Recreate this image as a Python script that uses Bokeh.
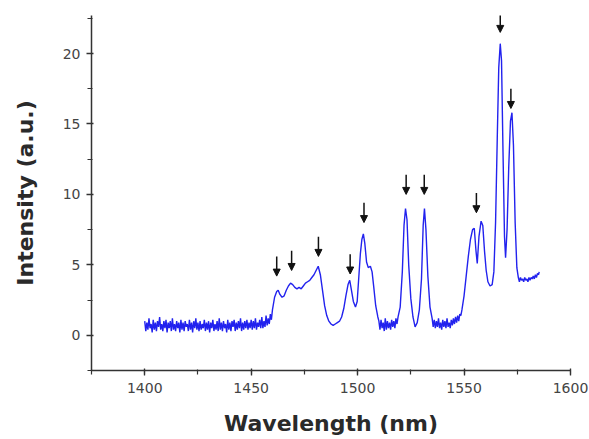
from bokeh.plotting import figure
from bokeh.models import Range1d, SingleIntervalTicker, Arrow, NormalHead, ColumnDataSource
from bokeh.embed import file_html
from bokeh.resources import INLINE

# Spectrum (wavelength nm, intensity a.u.), in segments
base1_x = [1400 + 0.5 * i for i in range(120)]  # 1400.0 ... 1459.5 sample positions
base1_y = [
    1.0, 0.3, 0.9, 0.4, 1.2, 0.5, 0.8, 0.2, 1.1, 0.4,
    0.9, 0.3, 1.0, 0.6, 1.3, 0.4, 0.8, 0.3, 1.0, 0.5,
    1.1, 0.2, 0.9, 0.5, 1.0, 0.3, 1.2, 0.4, 0.8, 0.3,
    1.0, 0.5, 0.9, 0.2, 1.1, 0.4, 0.9, 0.3, 1.0, 0.6,
    0.8, 0.3, 1.1, 0.4, 0.9, 0.2, 1.0, 0.5, 1.2, 0.4,
    0.9, 0.3, 1.0, 0.4, 0.8, 0.5, 1.1, 0.3, 0.9, 0.4,
    1.0, 0.2, 0.9, 0.5, 1.1, 0.3, 0.8, 0.4, 1.0, 0.3,
    1.2, 0.4, 0.9, 0.3, 1.0, 0.5, 0.8, 0.2, 1.1, 0.4,
    0.9, 0.3, 1.0, 0.6, 1.1, 0.3, 0.9, 0.4, 1.0, 0.5,
    1.2, 0.3, 0.9, 0.4, 1.0, 0.5, 1.1, 0.4, 0.9, 0.5,
    1.1, 0.4, 1.0, 0.5, 1.2, 0.4, 0.9, 0.6, 1.1, 0.5,
    1.3, 0.5, 1.0, 0.6, 1.4, 0.7, 1.2, 0.8, 1.5, 1.1,
]
peaks1_x = [
    1460, 1461, 1462, 1462.7, 1463.5, 1464.5, 1465.5, 1466.5, 1467.5, 1468.5,
    1469.5, 1470.5, 1471.5, 1472.5, 1473.5, 1474.5, 1475.5, 1476.5, 1477.5, 1478.5,
    1479.5, 1480.5, 1481.5, 1482.5, 1483.5, 1484.5, 1485.5, 1486.5, 1487.5, 1488.5,
    1489.5, 1490.5, 1491.5, 1492.5, 1493.5, 1494.5, 1495.5, 1496.3, 1497, 1498,
    1499, 1499.8, 1500.5, 1501.3, 1502, 1502.7, 1503.4, 1504.2, 1505, 1506,
    1506.8, 1507.6, 1508.5, 1509.5,
]
peaks1_y = [
    1.8, 2.7, 3.1, 3.2, 2.9, 2.7, 2.8, 3.2, 3.5, 3.7,
    3.6, 3.4, 3.3, 3.4, 3.3, 3.5, 3.7, 3.8, 3.9, 4.1,
    4.3, 4.6, 4.9, 4.3, 3.2, 2.1, 1.4, 1.0, 0.8, 0.7,
    0.8, 0.9, 1.0, 1.3, 1.9, 2.8, 3.6, 3.9, 3.3, 2.4,
    2.0, 2.4, 4.0, 5.8, 6.8, 7.2, 6.5, 5.2, 4.8, 4.9,
    4.5, 3.4, 2.1, 1.3,
]
base2_x = [1510, 1510.5, 1511, 1511.5, 1512, 1512.5, 1513, 1513.5, 1514, 1514.5,
           1515, 1515.5, 1516, 1516.5, 1517, 1517.5, 1518, 1518.5]
base2_y = [1.0, 0.4, 1.1, 0.5, 0.9, 0.3, 1.2, 0.4, 1.0, 0.5,
           0.9, 0.4, 1.1, 0.6, 1.0, 0.5, 1.2, 0.8]
peaks2_x = [1519, 1520, 1521, 1521.8, 1522.5, 1523.2, 1524, 1525, 1526, 1527,
            1528, 1529, 1530, 1530.8, 1531.4, 1532.1, 1533, 1534]
peaks2_y = [1.3, 2.0, 4.5, 7.8, 9.0, 8.2, 5.0, 2.6, 1.3, 0.6,
            0.9, 1.8, 4.0, 7.8, 9.0, 7.5, 4.2, 2.0]
base3_x = [1535, 1535.5, 1536, 1536.5, 1537, 1537.5, 1538, 1538.5, 1539, 1539.5,
           1540, 1540.5, 1541, 1541.5, 1542, 1542.5, 1543, 1543.5, 1544, 1544.5,
           1545, 1545.5, 1546, 1546.5, 1547, 1547.5, 1548, 1548.5]
base3_y = [1.2, 0.6, 1.1, 0.5, 1.0, 0.6, 1.2, 0.5, 0.9, 0.4,
           1.1, 0.6, 1.0, 0.5, 1.2, 0.6, 0.9, 0.5, 1.1, 0.7,
           1.2, 0.8, 1.3, 0.9, 1.4, 1.0, 1.5, 1.4]
peaks3_x = [
    1549, 1550, 1551, 1552, 1553, 1554, 1554.8, 1555.6, 1556.2, 1557,
    1558, 1558.8, 1559.6, 1560.4, 1561.2, 1562.2, 1563.2, 1564, 1564.8, 1565.6,
    1566.3, 1567, 1567.6, 1568.3, 1569, 1569.5, 1570.2, 1571, 1571.8, 1572.5,
    1573.2, 1574, 1574.8,
]
peaks3_y = [
    1.8, 2.8, 4.2, 5.6, 6.8, 7.5, 7.6, 6.0, 5.1, 7.0,
    8.1, 7.8, 6.0, 4.6, 3.8, 3.5, 3.6, 4.5, 8.0, 14.0,
    19.0, 20.7, 19.5, 13.0, 7.0, 5.5, 7.5, 12.0, 15.2, 15.8,
    13.5, 8.0, 4.8,
]
tail_x = [1575.5, 1576, 1576.5, 1577, 1577.5, 1578, 1578.5, 1579, 1579.5, 1580,
          1580.5, 1581, 1581.5, 1582, 1582.5, 1583, 1583.5, 1584, 1584.5, 1585, 1585.3]
tail_y = [4.1, 3.8, 4.1, 3.9, 4.0, 3.8, 4.1, 3.9, 4.0, 3.8,
          4.1, 3.9, 4.1, 4.0, 4.2, 4.0, 4.3, 4.1, 4.4, 4.3, 4.5]

wavelength = base1_x + peaks1_x + base2_x + peaks2_x + base3_x + peaks3_x + tail_x
intensity = base1_y + peaks1_y + base2_y + peaks2_y + base3_y + peaks3_y + tail_y

# Peak markers: wavelength and arrow-tip height
arrow_x = [1462, 1469, 1481.6, 1496.5, 1503, 1522.8, 1531.3, 1555.8, 1567, 1572]
arrow_tip = [4.2, 4.6, 5.6, 4.35, 8.0, 10.0, 10.0, 8.7, 21.5, 16.1]
arrow_len = 1.4

p = figure(width=589, height=439,
           x_range=Range1d(1375, 1600), y_range=Range1d(-2.5, 22.7),
           output_backend="svg", toolbar_location=None,
           min_border_left=91, min_border_right=19,
           min_border_top=15, min_border_bottom=69)
p.outline_line_color = None
p.grid.visible = False
p.background_fill_color = "white"
p.border_fill_color = "white"

p.line(wavelength, intensity, line_color="#2222ee", line_width=1.4)

src = ColumnDataSource(dict(x0=arrow_x, y0=[t + arrow_len for t in arrow_tip],
                            x1=arrow_x, y1=arrow_tip))
p.add_layout(Arrow(end=NormalHead(size=7, fill_color="#111111", line_color="#111111"),
                   x_start="x0", y_start="y0", x_end="x1", y_end="y1",
                   line_color="#111111", line_width=1.5, source=src))

p.xaxis.ticker = SingleIntervalTicker(interval=50, num_minor_ticks=2)
p.yaxis.ticker = SingleIntervalTicker(interval=5, num_minor_ticks=2)
p.xaxis.axis_label = "Wavelength (nm)"
p.yaxis.axis_label = "Intensity (a.u.)"

for ax in (p.xaxis[0], p.yaxis[0]):
    ax.axis_line_color = "#333333"
    ax.axis_line_width = 1.5
    ax.major_tick_line_color = "#333333"
    ax.minor_tick_line_color = "#333333"
    ax.major_tick_line_width = 1.3
    ax.minor_tick_line_width = 1.2
    ax.major_tick_out = 5
    ax.major_tick_in = 2
    ax.minor_tick_out = 4
    ax.minor_tick_in = 1
    ax.major_label_text_font = "DejaVu Sans"
    ax.major_label_text_font_size = "14px"
    ax.major_label_text_color = "#444444"
    ax.axis_label_text_font = "DejaVu Sans"
    ax.axis_label_text_font_size = "22px"
    ax.axis_label_text_font_style = "bold"
    ax.axis_label_text_color = "#2a2a2a"

p.xaxis.major_label_standoff = 7
p.yaxis.major_label_standoff = 6
p.xaxis.axis_label_standoff = 15
p.yaxis.axis_label_standoff = 22

open("out.html", "w").write(file_html(p, INLINE))
